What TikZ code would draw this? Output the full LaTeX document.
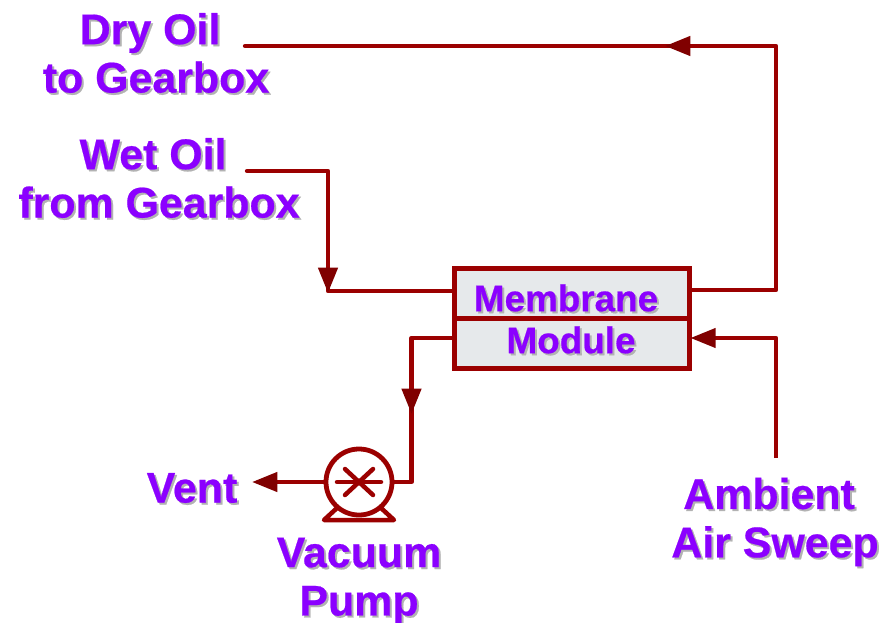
\documentclass[tikz,border=0pt]{standalone}
\usepackage{fontspec}
\setmainfont{Liberation Sans}[BoldFeatures={FakeBold=0.5}]
\usepackage{tikz}
\usetikzlibrary{arrows.meta, calc, positioning}
\definecolor{pipered}{HTML}{9B0000}
\definecolor{tipred}{HTML}{800000}
\definecolor{labelpurple}{HTML}{8B00FF}
\definecolor{modulegray}{HTML}{E6E9EB}
\tikzstyle{pipe} = [line width=3.1pt, draw=pipered, line join=round, line cap=round]
\tikzstyle{arrow} = [pipe, line cap=butt, -{Triangle[length=18pt, width=13.5pt, color=tipred]}]
\tikzstyle{flow} = [align=center, inner sep=0pt, font=\fontsize{30.5}{34.4}\bfseries\selectfont]
\tikzstyle{inbox} = [inner sep=0pt, font=\fontsize{26.2}{30}\bfseries\selectfont]
\tikzstyle{wheel} = [line width=3.2pt, draw=pipered, line cap=round, line join=round]
\newcommand{\flowlabel}[4][flow]{
	\node [#1, text=black!30] (#3Shadow) at ($(#2)+(2,2)$) {#4};
	\node [#1, text=labelpurple] (#3) at (#2) {#4};
}

\begin{document}
\begin{tikzpicture}[x=0.025cm, y=-0.025cm]
	\useasboundingbox (0,0) rectangle (888,623);
	\node (Module) [rectangle, draw=pipered, line width=3.2pt, fill=modulegray, minimum width=5.875cm, minimum height=2.49cm] at (572,318.5) {};
	\draw [line width=3.2pt, draw=pipered] (Module.west) -- (Module.east);
	\node (Pump) [circle, draw=pipered, line width=3.4pt, fill=white, minimum size=1.65cm] at (359,482) {};

	\flowlabel{156,53}{DryOil}{\mbox{Dry Oil\ }\\to Gearbox}
	\flowlabel{159,178}{WetOil}{\mbox{Wet Oil\ }\\from Gearbox}
	\flowlabel[inbox]{566,298}{Membrane}{Membrane}
	\flowlabel[inbox]{571,340}{ModuleText}{Module}
	\flowlabel{192,488}{Vent}{Vent}
	\flowlabel{359,581}{Vacuum}{Vacuum\\Pump}
	\flowlabel{775,522}{Sweep}{\mbox{Ambient\ }\\Air Sweep}

	% free ends of the lines
	\coordinate (DryEnd) at (245,46);
	\coordinate (DryTip) at (665,46);
	\coordinate (DryCorner) at (776,46);
	\coordinate (WetEnd) at (247,171);
	\coordinate (WetCorner) at (328,171);
	\coordinate (WetElbow) at (328,291);
	\coordinate (WetTip) at (328,293);
	\coordinate (VacCorner) at (411.5,338);
	\coordinate (VacTip) at (411.5,414);
	\coordinate (VentTip) at (252,482);
	\coordinate (SweepEnd) at (776,458);
	\coordinate (SweepCorner) at (776,338);

	% oil lines
	\draw [pipe] (Module.east |- 0,290) -- (776,290) -- (DryCorner) -- (DryEnd);
	\draw [arrow] (DryCorner) -- (DryTip);
	\draw [pipe] (WetEnd) -- (WetCorner) -- (WetElbow) -- (Module.west |- WetElbow);
	\draw [arrow] (WetCorner) -- (WetTip);
	% vacuum side
	\draw [pipe] (Module.west |- VacCorner) -- (VacCorner) -- (VacCorner |- Pump.east) -- (Pump.east);
	\draw [arrow] (VacCorner) -- (VacTip);
	\draw [arrow] (Pump.west) -- (VentTip);
	\draw [arrow, shorten >=-1pt] (SweepEnd) -- (SweepCorner) -- (Module.east |- SweepCorner);

	% pump impeller and feet
	\draw [wheel] ($(Pump.center)+(-22,0)$) -- ($(Pump.center)+(22,0)$);
	\draw [wheel] ($(Pump.center)+(-14,-13)$) -- ($(Pump.center)+(14,13)$);
	\draw [wheel] ($(Pump.center)+(-14,13)$) -- ($(Pump.center)+(14,-13)$);
	\draw [wheel] ($(Pump.center)+(-22,26)$) -- ($(Pump.center)+(-35,38)$) -- ($(Pump.center)+(35,38)$) -- ($(Pump.center)+(22,26)$);
\end{tikzpicture}
\end{document}
